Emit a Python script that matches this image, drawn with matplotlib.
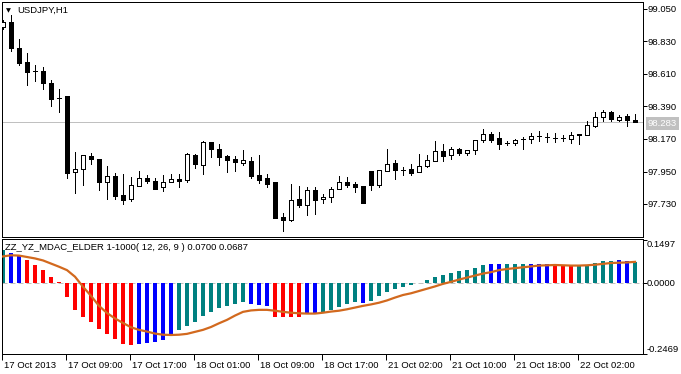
import matplotlib
matplotlib.use("Agg")
import matplotlib.pyplot as plt
import matplotlib.transforms as mtransforms
from matplotlib.patches import Rectangle

W, H = 681, 374

symbol = "USDJPY,H1"
indicator_title = "ZZ_YZ_MDAC_ELDER 1-1000( 12, 26, 9 ) 0.0700 0.0687"

# hourly candles, 17 Oct 01:00 .. 22 Oct 09:00
opens = [98.928, 98.960, 98.784, 98.691, 98.630, 98.630, 98.547, 98.450, 98.461, 97.949,
         97.965, 98.055, 98.033, 97.881, 97.920, 97.791, 97.764, 97.854, 97.904, 97.886,
         97.843, 97.881, 97.899, 97.895, 98.062, 97.992, 98.148, 98.102, 98.055, 98.033,
         98.010, 98.021, 97.926, 97.906, 97.879, 97.640, 97.622, 97.764, 97.725, 97.825,
         97.762, 97.775, 97.830, 97.879, 97.865, 97.852, 97.953, 97.861, 97.951, 98.010,
         97.960, 97.967, 97.945, 97.985, 98.019, 98.087, 98.060, 98.100, 98.077, 98.094,
         98.161, 98.206, 98.177, 98.145, 98.141, 98.168, 98.170, 98.188, 98.184, 98.179,
         98.179, 98.170, 98.206, 98.199, 98.260, 98.317, 98.351, 98.301, 98.326, 98.299]
highs = [98.976, 99.009, 98.845, 98.754, 98.669, 98.655, 98.569, 98.506, 98.461, 98.080,
         98.062, 98.073, 98.033, 97.987, 97.938, 97.933, 97.915, 97.953, 97.926, 97.904,
         97.926, 97.933, 97.933, 98.075, 98.069, 98.157, 98.148, 98.136, 98.062, 98.053,
         98.096, 98.050, 98.064, 97.933, 97.879, 97.667, 97.865, 97.852, 97.843, 97.843,
         97.798, 97.843, 97.920, 97.911, 97.879, 97.852, 97.953, 97.960, 98.100, 98.028,
         97.983, 98.001, 98.069, 98.060, 98.157, 98.134, 98.114, 98.109, 98.094, 98.161,
         98.241, 98.219, 98.219, 98.159, 98.172, 98.186, 98.209, 98.222, 98.209, 98.209,
         98.199, 98.219, 98.206, 98.290, 98.351, 98.364, 98.360, 98.335, 98.337, 98.337]
lows = [98.915, 98.768, 98.671, 98.536, 98.565, 98.506, 98.393, 98.353, 97.908, 97.807,
        97.859, 97.999, 97.825, 97.764, 97.764, 97.730, 97.750, 97.854, 97.870, 97.834,
        97.820, 97.881, 97.843, 97.877, 97.972, 97.931, 98.050, 97.992, 97.949, 97.955,
        97.996, 97.908, 97.874, 97.847, 97.637, 97.549, 97.617, 97.712, 97.658, 97.664,
        97.735, 97.744, 97.830, 97.847, 97.813, 97.735, 97.825, 97.847, 97.951, 97.901,
        97.924, 97.928, 97.945, 97.978, 98.019, 98.023, 98.033, 98.062, 98.060, 98.067,
        98.148, 98.152, 98.100, 98.127, 98.127, 98.104, 98.145, 98.155, 98.150, 98.150,
        98.155, 98.145, 98.134, 98.199, 98.253, 98.292, 98.292, 98.290, 98.256, 98.283]
closes = [98.962, 98.784, 98.686, 98.622, 98.630, 98.547, 98.443, 98.450, 97.942, 97.965,
          98.062, 98.033, 97.881, 97.920, 97.786, 97.757, 97.859, 97.904, 97.888, 97.834,
          97.877, 97.901, 97.888, 98.069, 97.999, 98.148, 98.100, 98.050, 98.030, 98.012,
          98.026, 97.922, 97.893, 97.863, 97.637, 97.624, 97.757, 97.725, 97.825, 97.757,
          97.777, 97.830, 97.879, 97.861, 97.847, 97.735, 97.861, 97.960, 98.001, 97.960,
          97.960, 97.942, 97.987, 98.028, 98.087, 98.057, 98.100, 98.077, 98.094, 98.161,
          98.202, 98.161, 98.138, 98.145, 98.163, 98.168, 98.192, 98.188, 98.184, 98.179,
          98.179, 98.199, 98.199, 98.263, 98.317, 98.351, 98.303, 98.317, 98.301, 98.283]
last_price = 98.283
price_ticks = [99.050, 98.830, 98.610, 98.390, 98.170, 97.950, 97.730]

hist = [0.117, 0.105, 0.098, 0.082, 0.064, 0.046, 0.022, 0.005, -0.050, -0.094,
        -0.118, -0.135, -0.162, -0.180, -0.197, -0.215, -0.217, -0.2135, -0.210, -0.205,
        -0.198, -0.182, -0.166, -0.151, -0.136, -0.117, -0.100, -0.087, -0.080, -0.075,
        -0.068, -0.0735, -0.077, -0.0805, -0.118, -0.118, -0.118, -0.118, -0.106, -0.105,
        -0.102, -0.096, -0.083, -0.074, -0.066, -0.070, -0.063, -0.045, -0.031, -0.022,
        -0.014, -0.006, -0.001, 0.0105, 0.021, 0.029, 0.036, 0.042, 0.0455, 0.0525,
        0.063, 0.0665, 0.0665, 0.0665, 0.0665, 0.0665, 0.0665, 0.0665, 0.0665, 0.0607,
        0.0607, 0.0607, 0.0607, 0.0607, 0.070, 0.076, 0.076, 0.0805, 0.076, 0.0747]
hist_state = ("tbbrrrrrrrrrrrrrrbbbbbtttttttttbbbrrrrbbtttttbttttttttttttttt"
              "bbtttbbbrrrtttttbb")
signal = [0.093, 0.097, 0.096, 0.091, 0.086, 0.079, 0.068, 0.057, 0.045, 0.022,
          -0.013, -0.045, -0.080, -0.105, -0.124, -0.140, -0.155, -0.164, -0.170, -0.177,
          -0.181, -0.182, -0.181, -0.178, -0.171, -0.164, -0.154, -0.141, -0.129, -0.114,
          -0.101, -0.096, -0.094, -0.094, -0.097, -0.101, -0.104, -0.106, -0.107, -0.107,
          -0.104, -0.100, -0.097, -0.092, -0.086, -0.080, -0.075, -0.069, -0.061, -0.051,
          -0.042, -0.036, -0.028, -0.020, -0.012, -0.003, 0.004, 0.012, 0.019, 0.026,
          0.033, 0.038, 0.045, 0.049, 0.052, 0.055, 0.058, 0.061, 0.062, 0.063,
          0.062, 0.061, 0.061, 0.062, 0.064, 0.067, 0.070, 0.071, 0.072, 0.074]
ind_ticks = [0.1497, 0.0000, -0.2469]

time_label_bars = [0, 8, 16, 24, 32, 40, 48, 56, 64, 72]
time_labels = ["17 Oct 2013", "17 Oct 09:00", "17 Oct 17:00", "18 Oct 01:00",
               "18 Oct 09:00", "18 Oct 17:00", "21 Oct 02:00", "21 Oct 10:00",
               "21 Oct 18:00", "22 Oct 02:00"]

state_colors = {"t": "#008080", "b": "#0000FF", "r": "#FF0000"}
FONT = ["Liberation Sans", "DejaVu Sans"]
FS = 6.8
PX = 72.0 / 100  # one pixel in points

fig = plt.figure(figsize=(W / 100, H / 100), dpi=100)
fig.patch.set_facecolor("white")


def axes_box(left, top, right, bottom):
    return [left / W, 1 - bottom / H, (right - left) / W, (bottom - top) / H]


ax = fig.add_axes(axes_box(2, 2, 643, 237))
ax2 = fig.add_axes(axes_box(2, 239, 643, 354))

n = len(closes)
xs = list(range(n))
for a in (ax, ax2):
    a.set_xlim(-0.125, 80)
    for s in a.spines.values():
        s.set_linewidth(PX)
        s.set_color("black")
    a.set_facecolor("white")

# ---- price panel ----
ax.set_ylim(97.507, 99.097)
ax.axhline(last_price, color="#C0C0C0", lw=PX, zorder=1)
ax.vlines(xs, lows, highs, color="black", lw=PX, zorder=2, antialiased=False)
for i in xs:
    o, c = opens[i], closes[i]
    fc = "white" if c >= o else "black"
    ax.add_patch(Rectangle((i - 0.25, min(o, c)), 0.5, abs(c - o), facecolor=fc,
                           edgecolor="black", lw=PX, zorder=3, antialiased=False))

ax.yaxis.tick_right()
ax.set_yticks(price_ticks)
ax.set_yticklabels([])
ax.tick_params(axis="y", length=3, width=PX, direction="out")
ax.set_xticks([])
tr = mtransforms.blended_transform_factory(ax.transAxes, ax.transData)
for v in price_ticks:
    ax.text(1, v, f"{v:.3f}", transform=mtransforms.offset_copy(tr, fig=fig, x=4, y=-3.4, units="dots"),
            family=FONT, fontsize=FS, va="baseline", ha="left", clip_on=False)
ax.text(1, last_price, f"{last_price:.3f}",
        transform=mtransforms.offset_copy(tr, fig=fig, x=4.5, y=-3.4, units="dots"),
        family=FONT, fontsize=FS, color="white", va="baseline", ha="left", clip_on=False,
        bbox=dict(boxstyle="square,pad=0.2", fc="#C0C0C0", ec="none"))

fig.text(8.2 / W, 1 - 12.5 / H, "\u25BC", family="DejaVu Sans", fontsize=4.6, ha="center", va="baseline")
fig.text(17 / W, 1 - 13 / H, symbol, family=FONT, fontsize=FS, va="baseline")

# ---- indicator panel ----
ax2.set_ylim(-0.2485, 0.154)
ax2.axhline(0, color="#C0C0C0", lw=PX, ls=(0, (5, 3)), zorder=1)
ax2.bar(xs, hist, width=0.5, color=[state_colors[s] for s in hist_state], lw=0,
        zorder=2, antialiased=False)
ax2.plot(xs, signal, color="#D2691E", lw=1.6, zorder=3, solid_joinstyle="miter")

ax2.yaxis.tick_right()
ax2.set_yticks(ind_ticks)
ax2.set_yticklabels([])
ax2.tick_params(axis="y", length=3, width=PX, direction="out")
tr2 = mtransforms.blended_transform_factory(ax2.transAxes, ax2.transData)
for v, dy in zip(ind_ticks, [-6.9, -3.4, 1.2]):
    ax2.text(1, v, f"{v:.4f}", transform=mtransforms.offset_copy(tr2, fig=fig, x=4, y=dy, units="dots"),
             family=FONT, fontsize=FS, va="baseline", ha="left", clip_on=False)
fig.text(5 / W, 1 - 250.5 / H, indicator_title, family=FONT, fontsize=FS, va="baseline")

tick_pos = [b - 0.125 for b in time_label_bars]
ax2.set_xticks(tick_pos)
ax2.set_xticklabels([])
ax2.tick_params(axis="x", length=4, width=PX, direction="out")
trx = mtransforms.blended_transform_factory(ax2.transData, ax2.transAxes)
for p, lab in zip(tick_pos, time_labels):
    ax2.text(p, 0, lab, transform=mtransforms.offset_copy(trx, fig=fig, x=2.5, y=-13.5, units="dots"),
             family=FONT, fontsize=FS, va="baseline", ha="left", clip_on=False)

fig.savefig("out.png", dpi=100)
